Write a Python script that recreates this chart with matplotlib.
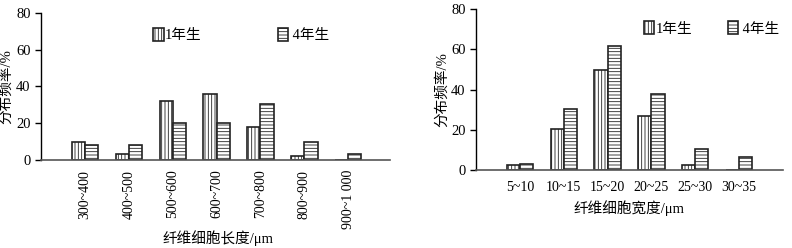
import numpy as np
import matplotlib
matplotlib.use("Agg")
import matplotlib.pyplot as plt

plt.rcParams['font.family'] = ['Liberation Serif', 'Noto Sans CJK SC']
plt.rcParams['hatch.linewidth'] = 0.6
plt.rcParams['hatch.color'] = '#444444'

# fibre cell length distribution
length_bins = ["300~400", "400~500", "500~600", "600~700", "700~800", "800~900", "900~1 000"]
length_1yr = [10, 3.5, 32, 36, 17.8, 2, 0]
length_4yr = [8, 8, 20.3, 20.3, 30.3, 10, 3.5]

# fibre cell width distribution
width_bins = ["5~10", "10~15", "15~20", "20~25", "25~30", "30~35"]
width_1yr = [2.6, 20.2, 49.8, 26.6, 2.6, 0]
width_4yr = [3.2, 30.5, 61.8, 37.8, 10.6, 6.4]

labels = ["1年生", " 4年生"]

fig = plt.figure(figsize=(7.92, 2.48), dpi=100)
ax1 = fig.add_axes([0.0518, 0.355, 0.4406, 0.5927])
ax2 = fig.add_axes([0.601, 0.3145, 0.3876, 0.6492])

w = 0.3


def draw(ax, cats, v1, v4, rot, pad):
    x = np.arange(len(cats))
    ax.bar(x - w / 2, v1, w, facecolor="white", edgecolor="#222222",
           linewidth=1.2, hatch="|||||", label=labels[0])
    ax.bar(x + w / 2, v4, w, facecolor="white", edgecolor="#222222",
           linewidth=1.2, hatch="-----", label=labels[1])
    ax.set_ylim(0, 80)
    ax.set_yticks([0, 20, 40, 60, 80])
    ax.set_xlim(-1.0, len(cats) - 0.05)
    ax.set_xticks(x)
    ax.set_xticklabels(cats, rotation=rot, fontsize=10)
    ax.tick_params(axis="x", length=0, pad=pad)
    ax.tick_params(axis="y", direction="out", length=4, labelsize=10.5, width=1)
    for s in ["top", "right"]:
        ax.spines[s].set_visible(False)
    ax.spines["bottom"].set_color("#555555")
    ax.spines["bottom"].set_linewidth(1.2)
    ax.spines["left"].set_linewidth(1.0)
    ax.set_ylabel("分布频率/%", fontsize=10.5)


draw(ax1, length_bins, length_1yr, length_4yr, 90, 7)
draw(ax2, width_bins, width_1yr, width_4yr, 0, 8)
ax2.set_xlim(-1.0, 6.0)

ax1.set_xlabel("纤维细胞长度/μm", fontsize=10.5)
ax1.xaxis.set_label_coords(0.507, -0.48)
ax1.yaxis.set_label_coords(-0.08, 0.5)
ax2.set_xlabel("纤维细胞宽度/μm", fontsize=10.5)
ax2.xaxis.set_label_coords(0.5, -0.19)
ax2.yaxis.set_label_coords(-0.086, 0.5)

ax1.legend(loc="center left", bbox_to_anchor=(0.322, 0.85), ncol=2, frameon=False,
           borderpad=0, borderaxespad=0, handlelength=0.7, handleheight=1.0,
           handletextpad=0.1, columnspacing=5.2, fontsize=10.5)
ax2.legend(loc="center left", bbox_to_anchor=(0.548, 0.88), ncol=2, frameon=False,
           borderpad=0, borderaxespad=0, handlelength=0.7, handleheight=1.0,
           handletextpad=0.1, columnspacing=2.4, fontsize=10.5)

fig.savefig("out.png", dpi=100)
